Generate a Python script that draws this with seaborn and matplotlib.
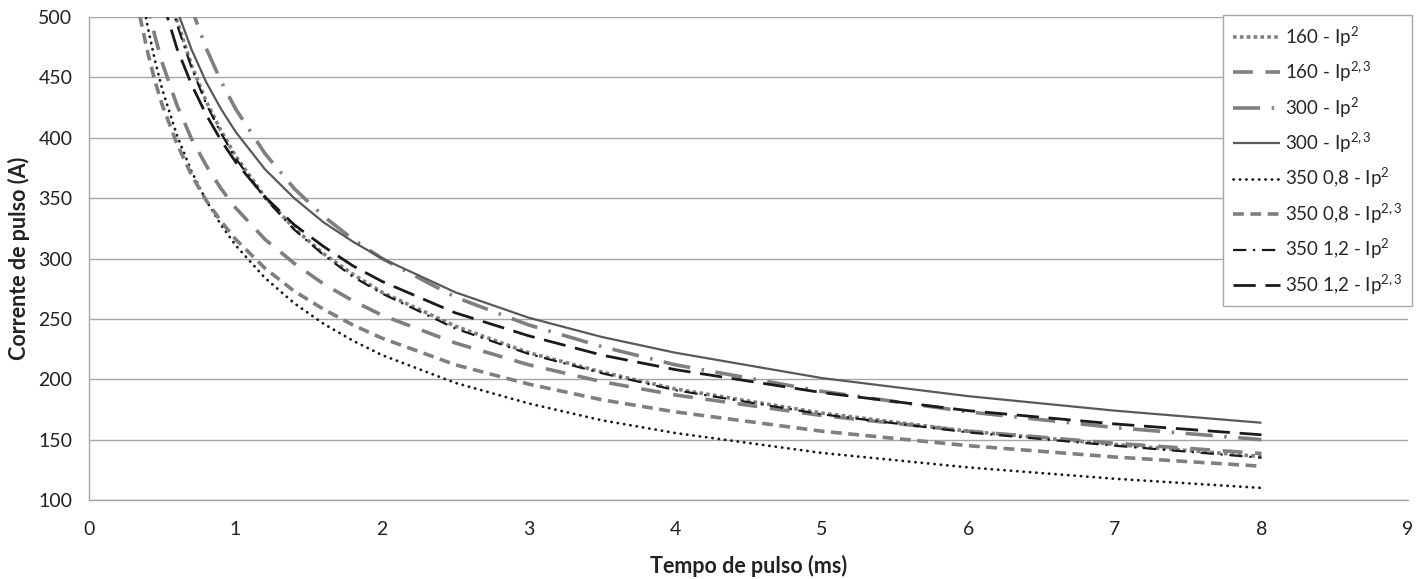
import matplotlib
matplotlib.use("Agg")
import matplotlib.pyplot as plt
import seaborn as sns
import pandas as pd

# Pulse time (ms)
tempo = [0.3, 0.35, 0.4, 0.45, 0.5, 0.6, 0.7, 0.8, 0.9, 1.0, 1.2, 1.4, 1.6, 1.8,
         2.0, 2.5, 3.0, 3.5, 4.0, 5.0, 6.0, 7.0, 8.0]

# Pulse current (A)
s160_ip2 = [703, 651, 609, 574, 544, 497, 460, 430, 406, 385, 351, 325, 304, 287,
            272, 244, 222, 206, 192, 172, 157, 146, 136]
s160_ip23 = [577, 540, 509, 484, 462, 427, 399, 377, 358, 342, 316, 296, 279, 265,
             253, 230, 212, 198, 187, 170, 157, 147, 138.5]
s300_ip2 = [774, 717, 670, 632, 600, 547, 507, 474, 447, 424, 387, 358, 335, 316,
            300, 268, 245, 227, 212, 190, 173, 160, 150]
s300_ip23 = [684, 639, 603, 573, 547, 506, 473, 446, 424, 405, 374, 350, 330, 314,
             300, 272, 251, 235, 222, 201, 186, 174, 164]
s350_08_ip2 = [568, 526, 492, 464, 440, 402, 372, 348, 328, 311, 284, 263, 246, 232,
               220, 197, 180, 166, 155.5, 139, 127, 117.6, 110]
s350_08_ip23 = [533, 499, 471, 447, 427, 395, 369, 348, 331, 316, 292, 273, 258, 245,
                234, 212, 196, 183, 173, 157, 145, 135.6, 128]
s350_12_ip2 = [699, 647, 606, 571, 542, 494, 458, 428, 404, 383, 350, 324, 303, 285,
               271, 242, 221, 205, 191, 171, 156, 145, 135]
s350_12_ip23 = [641, 600, 566, 538, 514, 474, 444, 419, 398, 380, 351, 328, 310, 294,
                281, 255, 236, 220, 208, 189, 174, 163, 154]

labels = ["160 - Ip$^{\\mathrm{2}}$", "160 - Ip$^{\\mathrm{2,3}}$",
          "300 - Ip$^{\\mathrm{2}}$", "300 - Ip$^{\\mathrm{2,3}}$",
          "350 0,8 - Ip$^{\\mathrm{2}}$", "350 0,8 - Ip$^{\\mathrm{2,3}}$",
          "350 1,2 - Ip$^{\\mathrm{2}}$", "350 1,2 - Ip$^{\\mathrm{2,3}}$"]
series = [s160_ip2, s160_ip23, s300_ip2, s300_ip23,
          s350_08_ip2, s350_08_ip23, s350_12_ip2, s350_12_ip23]

GRAY = "#7f7f7f"
BLACK = "#1a1a1a"
styles = [
    dict(color=GRAY, lw=2.6, ls=(0, (1.0, 0.9)), cap="butt"),
    dict(color=GRAY, lw=2.6, ls=(0, (5.5, 3.5)), cap="butt"),
    dict(color=GRAY, lw=2.6, ls=(0, (7.5, 3.2, 0.7, 3.2)), cap="butt"),
    dict(color="#595959", lw=1.6, ls="-", cap="butt"),
    dict(color=BLACK, lw=2.0, ls=(0, (0.1, 2.2)), cap="round"),
    dict(color=GRAY, lw=2.6, ls=(0, (3.0, 1.8)), cap="butt"),
    dict(color=BLACK, lw=1.6, ls=(0, (6.0, 3.0, 1.0, 3.0)), cap="butt"),
    dict(color=BLACK, lw=2.0, ls=(0, (8.0, 3.5)), cap="butt"),
]

sns.set_style("white")
plt.rcParams["font.family"] = ["Lato", "DejaVu Sans"]
plt.rcParams["mathtext.fontset"] = "custom"
plt.rcParams["mathtext.rm"] = "Lato"
plt.rcParams["mathtext.it"] = "Lato:italic"
plt.rcParams["mathtext.bf"] = "Lato:bold"

fig = plt.figure(figsize=(14.24, 5.79), dpi=100)
ax = fig.add_axes([0.0625, 0.1364, 0.9263, 0.8342])

for lab, vals, st in zip(labels, series, styles):
    df = pd.DataFrame({"t": tempo, "I": vals})
    sns.lineplot(data=df, x="t", y="I", ax=ax, color=st["color"], linewidth=st["lw"],
                 linestyle=st["ls"], label=lab, dash_capstyle=st["cap"],
                 solid_capstyle="butt")

ax.set_xlim(0, 9)
ax.set_ylim(100, 500)
ax.set_xticks(range(0, 10))
ax.set_yticks(range(100, 501, 50))
ax.yaxis.grid(True, color="#a6a6a6", linewidth=1.0)
ax.xaxis.grid(False)
ax.set_axisbelow(True)
for side in ["top", "right"]:
    ax.spines[side].set_visible(False)
for side in ["left", "bottom"]:
    ax.spines[side].set_color("#a6a6a6")
    ax.spines[side].set_linewidth(1.0)
ax.tick_params(axis="both", which="both", direction="out", length=5, width=1,
               color="#a6a6a6", labelsize=14, labelcolor="#222222", pad=7)
ax.tick_params(axis="x", pad=10)

ax.set_xlabel("Tempo de pulso (ms)", fontsize=15.5, fontweight="bold", color="#222222",
              labelpad=12)
ax.set_ylabel("Corrente de pulso (A)", fontsize=15.5, fontweight="bold", color="#222222",
              labelpad=6)

leg = ax.legend(loc="upper right", bbox_to_anchor=(1.003, 1.004), fontsize=13.5,
                frameon=True, fancybox=False, edgecolor="#a6a6a6", framealpha=1,
                handlelength=2.5, handletextpad=0.3, labelspacing=0.6,
                borderpad=0.5, borderaxespad=0)
leg.get_frame().set_linewidth(1.0)

fig.savefig("out.png", dpi=100, facecolor="white")
